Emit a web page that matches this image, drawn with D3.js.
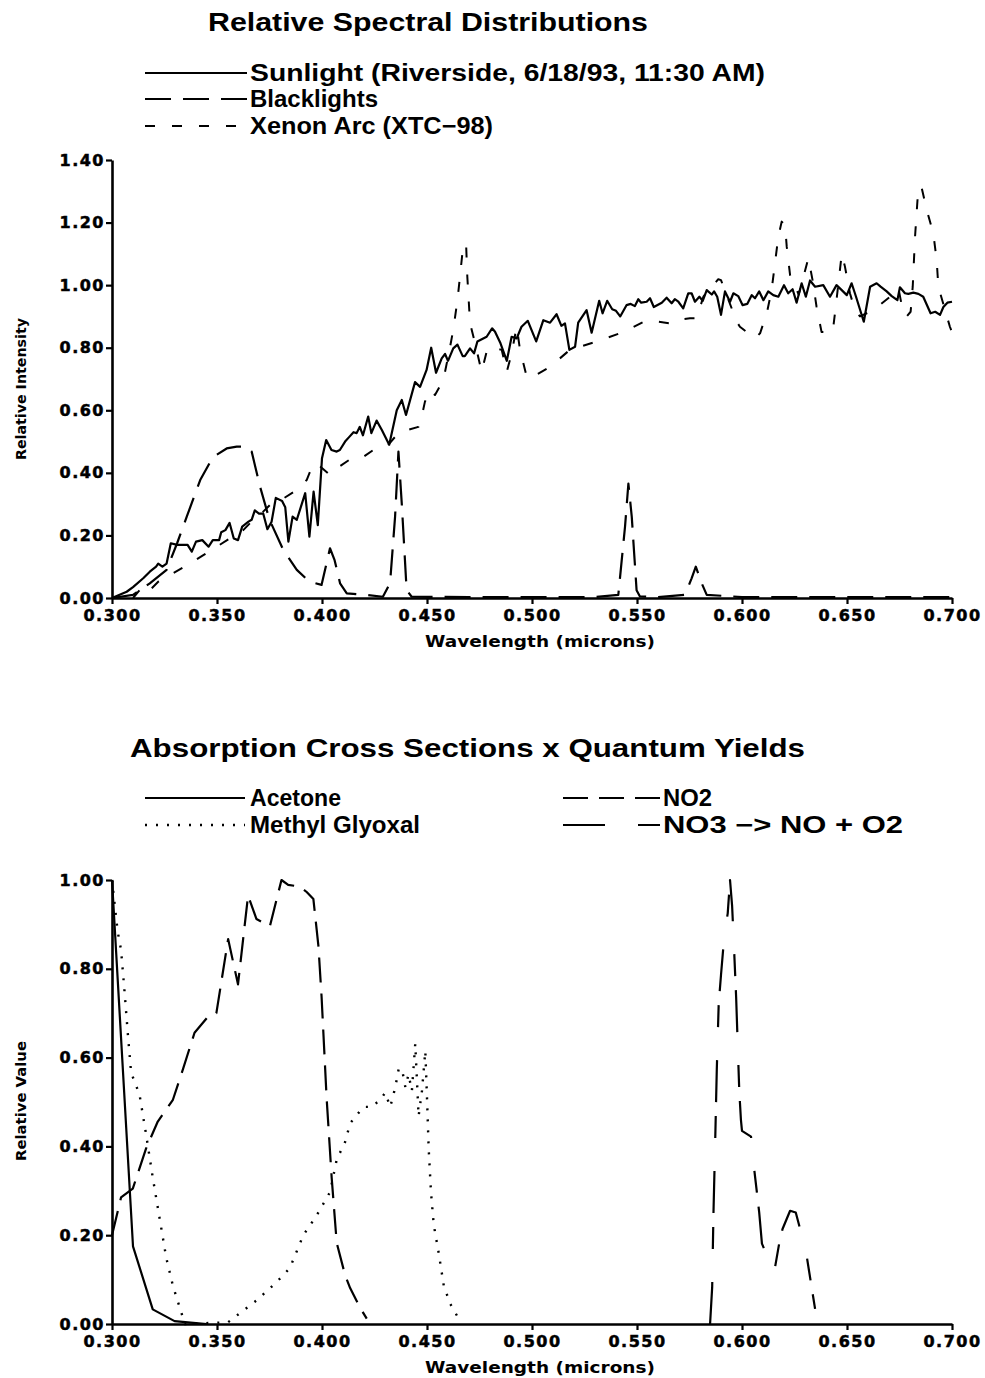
<!DOCTYPE html>
<html>
<head>
<meta charset="utf-8">
<script src="https://cdn.jsdelivr.net/npm/d3@7"></script>
<style>
  html, body { margin: 0; padding: 0; background: #fff; }
  svg { display: block; }
</style>
</head>
<body>
<svg id="chart" width="985" height="1378"></svg>
<script>
// ---- tick values ----
const xTicks = [0.300, 0.350, 0.400, 0.450, 0.500, 0.550, 0.600, 0.650, 0.700];
const topYTicks = [0.00, 0.20, 0.40, 0.60, 0.80, 1.00, 1.20, 1.40];
const bottomYTicks = [0.00, 0.20, 0.40, 0.60, 0.80, 1.00];

// ---- relative spectral distributions: [wavelength (microns), relative intensity] ----
const sunlight = [
  [0.300,0.00],[0.307,0.02],[0.310,0.035],[0.315,0.064],[0.318,0.084],[0.321,0.10],[0.322,0.11],[0.324,0.10],
  [0.326,0.11],[0.328,0.175],[0.331,0.17],[0.336,0.17],[0.338,0.148],[0.340,0.18],[0.343,0.185],[0.346,0.164],
  [0.348,0.185],[0.351,0.185],[0.352,0.21],[0.354,0.217],[0.356,0.24],[0.358,0.19],[0.360,0.185],[0.362,0.228],
  [0.365,0.244],[0.3665,0.25],[0.368,0.28],[0.370,0.27],[0.372,0.27],[0.374,0.22],[0.376,0.244],[0.378,0.32],
  [0.381,0.31],[0.3825,0.29],[0.384,0.18],[0.386,0.26],[0.388,0.25],[0.392,0.335],[0.394,0.196],[0.396,0.34],
  [0.398,0.233],[0.400,0.447],[0.402,0.505],[0.4045,0.473],[0.407,0.468],[0.4085,0.473],[0.411,0.50],[0.413,0.515],
  [0.415,0.53],[0.4165,0.527],[0.418,0.547],[0.4195,0.52],[0.422,0.58],[0.4235,0.527],[0.426,0.567],[0.4285,0.537],
  [0.432,0.49],[0.4356,0.60],[0.438,0.633],[0.440,0.585],[0.4443,0.69],[0.4467,0.675],[0.4498,0.729],[0.452,0.80],
  [0.4543,0.72],[0.457,0.766],[0.4586,0.78],[0.460,0.758],[0.4625,0.798],[0.4645,0.81],[0.467,0.773],[0.468,0.773],
  [0.4705,0.798],[0.4724,0.782],[0.474,0.82],[0.4784,0.835],[0.481,0.862],[0.4824,0.851],[0.485,0.814],[0.488,0.758],
  [0.4903,0.835],[0.4927,0.83],[0.495,0.867],[0.498,0.886],[0.502,0.82],[0.5054,0.888],[0.5086,0.88],[0.5117,0.907],
  [0.514,0.87],[0.5157,0.878],[0.5178,0.793],[0.5205,0.803],[0.522,0.88],[0.526,0.92],[0.5284,0.848],[0.532,0.95],
  [0.5336,0.91],[0.5358,0.95],[0.5382,0.923],[0.540,0.918],[0.542,0.90],[0.545,0.936],[0.547,0.94],[0.549,0.933],
  [0.5506,0.955],[0.552,0.944],[0.5546,0.947],[0.5562,0.958],[0.558,0.93],[0.5618,0.944],[0.5641,0.96],[0.5665,0.942],
  [0.568,0.955],[0.5697,0.947],[0.572,0.926],[0.5744,0.974],[0.576,0.974],[0.5776,0.947],[0.5797,0.963],[0.5813,0.95],
  [0.5832,0.984],[0.5856,0.97],[0.5867,0.98],[0.5882,0.963],[0.590,0.905],[0.5919,0.98],[0.5943,0.947],[0.5959,0.974],
  [0.5982,0.965],[0.6003,0.936],[0.6025,0.94],[0.6046,0.968],[0.6062,0.958],[0.6082,0.98],[0.6102,0.952],[0.6125,0.98],
  [0.6149,0.968],[0.6173,0.963],[0.620,1.00],[0.622,0.974],[0.6241,0.987],[0.626,0.944],[0.6284,1.006],[0.6304,0.963],
  [0.6324,1.015],[0.6348,0.995],[0.6387,1.00],[0.6419,0.963],[0.645,1.00],[0.6475,0.984],[0.6499,0.968],[0.6522,1.006],
  [0.6543,0.963],[0.658,0.883],[0.661,0.995],[0.6641,1.006],[0.666,0.995],[0.6689,0.98],[0.6713,0.965],[0.674,0.952],
  [0.6752,0.993],[0.6776,0.974],[0.6792,0.972],[0.6816,0.976],[0.684,0.972],[0.6863,0.963],[0.6898,0.91],[0.692,0.915],
  [0.6943,0.905],[0.6959,0.93],[0.6978,0.944],[0.700,0.947]
];

const blacklights = [
  [0.300,0.00],[0.310,0.01],[0.318,0.047],[0.326,0.09],[0.331,0.175],[0.3356,0.26],[0.342,0.377],[0.348,0.45],
  [0.3546,0.478],[0.3594,0.484],[0.364,0.484],[0.3665,0.468],[0.3705,0.356],[0.375,0.25],[0.3816,0.153],[0.388,0.09],
  [0.394,0.052],[0.3998,0.042],[0.4038,0.159],[0.406,0.121],[0.4086,0.047],[0.4118,0.015],[0.4213,0.01],[0.429,0.004],
  [0.4324,0.047],[0.4348,0.26],[0.4364,0.468],[0.438,0.30],[0.4403,0.025],[0.4427,0.004],[0.470,0.003],[0.500,0.003],
  [0.530,0.003],[0.5411,0.01],[0.5443,0.228],[0.5459,0.366],[0.5475,0.26],[0.5498,0.025],[0.5514,0.005],[0.560,0.003],
  [0.5729,0.01],[0.576,0.063],[0.578,0.10],[0.5808,0.047],[0.5832,0.01],[0.600,0.003],[0.650,0.003],[0.700,0.003]
];

const xenonArc = [
  [0.310,0.00],[0.315,0.04],[0.318,0.025],[0.322,0.052],[0.329,0.079],[0.337,0.11],[0.3435,0.137],[0.3499,0.164],
  [0.356,0.19],[0.3625,0.217],[0.3673,0.25],[0.372,0.276],[0.3768,0.308],[0.3816,0.318],[0.388,0.345],[0.3927,0.377],
  [0.3959,0.43],[0.3983,0.425],[0.4038,0.393],[0.406,0.41],[0.4133,0.443],[0.418,0.443],[0.4244,0.473],[0.4308,0.484],
  [0.4348,0.515],[0.437,0.53],[0.4459,0.547],[0.4475,0.58],[0.449,0.627],[0.4514,0.665],[0.4538,0.649],[0.4578,0.697],
  [0.4594,0.75],[0.461,0.803],[0.4625,0.857],[0.4645,0.952],[0.4657,1.027],[0.467,1.112],[0.4686,1.134],[0.4692,1.027],
  [0.4705,0.878],[0.4729,0.814],[0.476,0.723],[0.4784,0.787],[0.480,0.803],[0.4856,0.793],[0.488,0.723],[0.4903,0.782],
  [0.4927,0.867],[0.4943,0.793],[0.4975,0.707],[0.499,0.702],[0.5086,0.739],[0.518,0.793],[0.5308,0.82],[0.5435,0.85],
  [0.5546,0.888],[0.5657,0.878],[0.5673,0.888],[0.5752,0.894],[0.5784,0.894],[0.5816,0.963],[0.5887,1.019],[0.590,1.016],
  [0.5975,0.883],[0.599,0.867],[0.6062,0.83],[0.6086,0.846],[0.6118,0.91],[0.6141,0.984],[0.6157,1.07],[0.6173,1.155],
  [0.6189,1.203],[0.6205,1.192],[0.6213,1.123],[0.6229,1.032],[0.627,0.97],[0.6316,1.086],[0.6336,1.016],[0.6355,0.931],
  [0.6379,0.85],[0.6432,0.85],[0.645,0.952],[0.6475,1.10],[0.649,1.06],[0.6514,0.974],[0.6538,0.92],[0.6562,0.90],
  [0.6625,0.92],[0.6705,0.963],[0.6745,0.99],[0.6768,0.91],[0.6784,0.90],[0.6803,0.915],[0.6813,0.995],[0.6824,1.155],
  [0.684,1.315],[0.6856,1.31],[0.688,1.24],[0.6911,1.165],[0.6927,1.08],[0.6935,0.995],[0.699,0.867],[0.700,0.85]
];

// ---- absorption cross sections x quantum yields: [wavelength (microns), relative value] ----
const acetone = [
  [0.300,1.00],[0.310,0.175],[0.3194,0.033],[0.3298,0.0065],[0.340,0.002],[0.345,0.00]
];

const methylGlyoxal = [
  [0.300,1.00],[0.3027,0.884],[0.3043,0.843],[0.3059,0.753],[0.3075,0.656],[0.3091,0.566],[0.3131,0.517],[0.3162,0.428],
  [0.3194,0.33],[0.3226,0.24],[0.3258,0.15],[0.329,0.086],[0.3334,0.02],[0.3346,0.00],[0.3553,0.004],[0.3608,0.024],
  [0.3688,0.053],[0.3783,0.094],[0.3847,0.126],[0.3911,0.20],[0.3974,0.244],[0.4038,0.297],[0.407,0.37],[0.411,0.41],
  [0.4134,0.452],[0.4197,0.489],[0.4237,0.489],[0.4277,0.505],[0.4301,0.521],[0.4325,0.489],[0.4349,0.533],[0.4365,0.574],
  [0.4381,0.574],[0.4397,0.533],[0.4412,0.562],[0.4428,0.525],[0.4444,0.631],[0.4452,0.55],[0.446,0.468],[0.4476,0.525],
  [0.4492,0.615],[0.450,0.509],[0.4508,0.395],[0.4519,0.297],[0.4532,0.224],[0.4556,0.159],[0.458,0.086],[0.4611,0.045],
  [0.4651,0.012]
];

const no2 = [
  [0.300,0.20],[0.3043,0.285],[0.3099,0.305],[0.3162,0.395],[0.3218,0.456],[0.329,0.505],[0.3338,0.574],[0.3393,0.656],
  [0.3457,0.692],[0.3497,0.70],[0.3553,0.867],[0.360,0.765],[0.3648,0.965],[0.3688,0.912],[0.3752,0.896],[0.3807,1.00],
  [0.3839,0.989],[0.3895,0.985],[0.3927,0.973],[0.3959,0.957],[0.3983,0.851],[0.3998,0.737],[0.4022,0.509],[0.4046,0.33],
  [0.407,0.183],[0.411,0.11],[0.4134,0.081],[0.4181,0.037],[0.4213,0.012]
];

const no3 = [
  [0.5848,0.00],[0.5858,0.083],[0.5864,0.247],[0.5873,0.426],[0.588,0.574],[0.5889,0.72],[0.590,0.786],[0.5916,0.876],
  [0.5932,0.925],[0.5943,1.00],[0.5953,0.941],[0.5959,0.88],[0.5972,0.737],[0.5987,0.525],[0.5995,0.459],[0.600,0.435],
  [0.6043,0.422],[0.6059,0.345],[0.6082,0.251],[0.6095,0.181],[0.6153,0.116],[0.6177,0.181],[0.6193,0.214],[0.6229,0.255],
  [0.6256,0.251],[0.6304,0.165],[0.6348,0.034]
];

// ---- drawing ----
const svg = d3.select("#chart");
const tickFont = "'DejaVu Sans', Verdana, sans-serif";
const titleFont = "'Liberation Sans Narrow', 'Liberation Sans', Arial, sans-serif";

const styles = {
  solid:    { dash: null,          width: 2.2 },
  longDash: { dash: "26,12",       width: 2.2 },
  shortDash:{ dash: "10,17",       width: 2.0 },
  dotted:   { dash: "2,9",         width: 2.4 },
  no2Dash:  { dash: "25,11",       width: 2.2 },
  no3Dash:  { dash: "42,33,22,14", width: 2.2 }
};

function drawPanel(opts) {
  const x = d3.scaleLinear().domain([0.3, 0.7]).range([112, 952]);
  const y = d3.scaleLinear().domain(opts.yDomain).range([opts.y0, opts.y1]);
  const g = svg.append("g");

  const xAxis = g.append("g")
    .attr("transform", `translate(0,${opts.y0})`)
    .call(d3.axisBottom(x).tickValues(xTicks).tickFormat(d3.format(".3f"))
      .tickSize(6).tickSizeOuter(0).tickPadding(6));
  const yAxis = g.append("g")
    .attr("transform", "translate(112,0)")
    .call(d3.axisLeft(y).tickValues(opts.yTicks).tickFormat(d3.format(".2f"))
      .tickSize(6).tickSizeOuter(0).tickPadding(1));

  [xAxis, yAxis].forEach(a => {
    a.select(".domain").attr("stroke", "#000").attr("stroke-width", 2.6);
    a.selectAll(".tick line").attr("stroke", "#000").attr("stroke-width", 2.2);
    a.selectAll(".tick text")
      .attr("fill", "#000")
      .attr("stroke", "#000").attr("stroke-width", 0.5)
      .style("font-family", tickFont)
      .style("font-weight", "bold")
      .style("font-size", "16px")
      .style("letter-spacing", "1.5px");
  });

  const line = d3.line().x(d => x(d[0])).y(d => y(d[1]));
  opts.series.forEach(s => {
    const st = styles[s.style];
    g.append("path")
      .datum(s.data)
      .attr("fill", "none")
      .attr("stroke", "#000")
      .attr("stroke-width", st.width)
      .attr("stroke-linejoin", "round")
      .attr("stroke-dasharray", st.dash)
      .attr("d", line);
  });

  // axis titles
  g.append("text")
    .attr("x", 540).attr("y", opts.y0 + 49)
    .attr("text-anchor", "middle")
    .attr("textLength", 230).attr("lengthAdjust", "spacingAndGlyphs")
    .style("font-family", tickFont).style("font-weight", "bold").style("font-size", "15px")
    .text("Wavelength  (microns)");
  g.append("text")
    .attr("transform", `translate(26,${opts.yTitleY}) rotate(-90)`)
    .attr("text-anchor", "middle")
    .attr("textLength", opts.yTitleLen).attr("lengthAdjust", "spacingAndGlyphs")
    .style("font-family", tickFont).style("font-weight", "bold").style("font-size", "14px")
    .text(opts.yTitle);

  // title
  g.append("text")
    .attr("x", opts.title.x).attr("y", opts.title.y)
    .attr("textLength", opts.title.len).attr("lengthAdjust", "spacingAndGlyphs")
    .style("font-family", titleFont).style("font-weight", "bold").style("font-size", "26px")
    .text(opts.title.text);

  // legend
  opts.legend.forEach(l => {
    const st = styles[l.style];
    g.append("line")
      .attr("x1", l.x1).attr("x2", l.x2).attr("y1", l.y).attr("y2", l.y)
      .attr("stroke", "#000").attr("stroke-width", st.width)
      .attr("stroke-dasharray", st.dash);
    g.append("text")
      .attr("x", l.tx).attr("y", l.y + 8)
      .attr("textLength", l.len).attr("lengthAdjust", "spacingAndGlyphs")
      .style("font-family", titleFont).style("font-weight", "bold").style("font-size", "23px")
      .text(l.text);
  });
}

drawPanel({
  yDomain: [0, 1.4], y0: 598, y1: 160, yTicks: topYTicks,
  yTitle: "Relative  Intensity", yTitleY: 389, yTitleLen: 142,
  title: { text: "Relative  Spectral  Distributions", x: 208, y: 31, len: 440 },
  legend: [
    { text: "Sunlight  (Riverside,  6/18/93,  11:30  AM)", style: "solid", x1: 145, x2: 247, y: 73, tx: 250, len: 515 },
    { text: "Blacklights", style: "longDash", x1: 145, x2: 247, y: 99, tx: 250, len: 128 },
    { text: "Xenon  Arc  (XTC\u221298)", style: "shortDash", x1: 145, x2: 247, y: 126, tx: 250, len: 243 }
  ],
  series: [
    { data: sunlight, style: "solid" },
    { data: blacklights, style: "longDash" },
    { data: xenonArc, style: "shortDash" }
  ]
});

drawPanel({
  yDomain: [0, 1.0], y0: 1324, y1: 880, yTicks: bottomYTicks,
  yTitle: "Relative  Value", yTitleY: 1101, yTitleLen: 120,
  title: { text: "Absorption  Cross  Sections  x  Quantum  Yields", x: 130, y: 757, len: 675 },
  legend: [
    { text: "Acetone", style: "solid", x1: 145, x2: 245, y: 798, tx: 250, len: 91 },
    { text: "Methyl  Glyoxal", style: "dotted", x1: 145, x2: 245, y: 825, tx: 250, len: 170 },
    { text: "NO2", style: "no2Dash", x1: 563, x2: 660, y: 798, tx: 663, len: 49 },
    { text: "NO3  \u2212>  NO  +  O2", style: "no3Dash", x1: 563, x2: 660, y: 825, tx: 663, len: 240 }
  ],
  series: [
    { data: acetone, style: "solid" },
    { data: methylGlyoxal, style: "dotted" },
    { data: no2, style: "no2Dash" },
    { data: no3, style: "no3Dash" }
  ]
});
</script>
</body>
</html>
